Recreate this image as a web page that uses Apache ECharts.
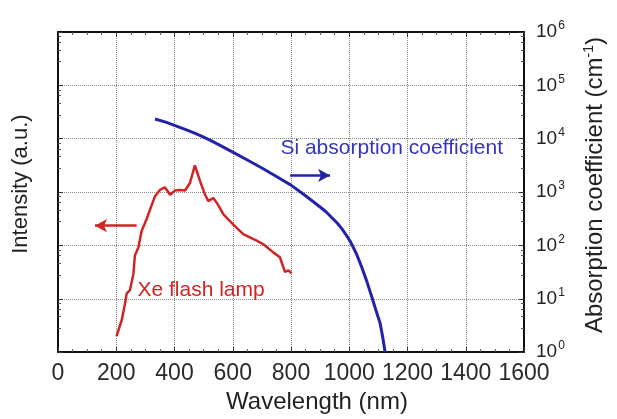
<!DOCTYPE html>
<html>
<head>
<meta charset="utf-8">
<script src="https://cdn.jsdelivr.net/npm/echarts@6/dist/echarts.min.js"></script>
<style>
  html, body { margin: 0; padding: 0; background: #fff; }
  #chart { width: 617px; height: 419px; }
</style>
</head>
<body>
<div id="chart"></div>
<script>
// Xe flash lamp emission spectrum (arbitrary units, log scale)
const xeWavelength = [201, 219, 230, 236, 247, 259, 264, 276, 287, 304, 322, 333, 350, 367, 385,
  402, 419, 436, 453, 470, 488, 505, 516, 533, 545, 556, 568, 602, 636, 682, 705, 739, 762, 779, 791, 802];
const xeIntensity = [2.0, 4.0, 8.1, 12.6, 14.5, 29.5, 64.6, 91, 186, 309, 575, 832, 1096, 1230, 891,
  1072, 1096, 1072, 1479, 3162, 1585, 891, 676, 776, 631, 501, 380, 245, 162, 123, 105, 74, 60, 32, 34, 30];

// Absorption coefficient of crystalline Si (cm^-1)
const siWavelength = [333, 370, 400, 450, 475, 500, 525, 550, 600, 650, 700, 750, 800, 850, 900, 920, 944,
  960, 975, 990, 1005, 1025, 1043, 1060, 1077, 1092, 1106, 1115, 1123];
const siAlpha = [23440, 20420, 17780, 13960, 12300, 10720, 9230, 7850, 5620, 3980, 2820, 1950, 1350, 851, 525, 427, 316,
  257, 204, 155, 115, 69, 38.9, 21.4, 11.0, 6.0, 3.47, 1.9, 1.0];

// Axis ranges
const wavelengthRange = [0, 1600];
const wavelengthStep = 200;
const logRange = [1, 1e6];

// Annotation anchors (data coordinates)
const siLabelAt = [762, 6500];
const xeLabelAt = [271, 14.7];
const siArrow = [[797, 2050], [934, 2050]];
const xeArrow = [[270, 234], [127, 234]];

const FONT = "'Liberation Sans', Arial, sans-serif";
const RED = '#d22424';
const BLUE = '#2323a8';

const zip = (xs, ys) => xs.map((x, i) => [x, ys[i]]);

const chart = echarts.init(document.getElementById('chart'), null, { renderer: 'canvas' });

const frameLine = { show: true, onZero: false, lineStyle: { color: '#111', width: 2 } };
const grid = { show: true, type: 'dotted', color: '#8a8a8a', width: 1 };

chart.setOption({
  animation: false,
  backgroundColor: '#fff',
  grid: { left: 58, right: 93, top: 32, bottom: 63, containLabel: false },
  xAxis: [
    {
      type: 'value', position: 'bottom',
      min: wavelengthRange[0], max: wavelengthRange[1], interval: wavelengthStep,
      name: 'Wavelength (nm)', nameLocation: 'middle', nameGap: 30,
      nameTextStyle: { fontFamily: FONT, fontSize: 24, color: '#222', padding: [0, 0, 0, 52] },
      axisLine: frameLine,
      axisTick: { show: true, inside: true, length: 5, lineStyle: { color: '#333' } },
      minorTick: { show: true, splitNumber: 4, length: 3, lineStyle: { color: '#555' } },
      axisLabel: { fontFamily: FONT, fontSize: 23, color: '#2a2a2a', margin: 10, formatter: v => String(v) },
      splitLine: { show: true, lineStyle: grid }
    },
    {
      type: 'value', position: 'top',
      min: wavelengthRange[0], max: wavelengthRange[1], interval: wavelengthStep,
      axisLine: frameLine,
      axisTick: { show: true, inside: true, length: 5, lineStyle: { color: '#333' } },
      minorTick: { show: true, splitNumber: 4, length: 3, lineStyle: { color: '#555' } },
      axisLabel: { show: false },
      splitLine: { show: false }
    }
  ],
  yAxis: [
    {
      type: 'log', position: 'left', logBase: 10,
      min: logRange[0], max: logRange[1],
      name: 'Intensity (a.u.)', nameLocation: 'middle', nameGap: 26, nameRotate: 90,
      nameTextStyle: { fontFamily: FONT, fontSize: 22, color: '#222', padding: [0, 0, 0, 16] },
      axisLine: frameLine,
      axisTick: { show: true, inside: true, length: 5, lineStyle: { color: '#333' } },
      minorTick: { show: true, splitNumber: 5, length: 3, lineStyle: { color: '#555' } },
      axisLabel: { show: false },
      splitLine: { show: true, lineStyle: grid }
    },
    {
      type: 'log', position: 'right', logBase: 10,
      min: logRange[0], max: logRange[1],
      name: 'Absorption coefficient (cm{s|-1})', nameLocation: 'middle', nameGap: 58, nameRotate: 90,
      nameTextStyle: {
        fontFamily: FONT, fontSize: 24, color: '#222', padding: [0, 0, 0, 14],
        rich: { s: { fontFamily: FONT, fontSize: 14, color: '#222', padding: [0, 0, 12, 0] } }
      },
      axisLine: frameLine,
      axisTick: { show: true, inside: true, length: 5, lineStyle: { color: '#333' } },
      minorTick: { show: true, splitNumber: 5, length: 3, lineStyle: { color: '#555' } },
      axisLabel: {
        margin: 12, color: '#222',
        formatter: v => '{b|10}{s|' + Math.round(Math.log10(v)) + '}',
        rich: {
          b: { fontFamily: FONT, fontSize: 19, color: '#222' },
          s: { fontFamily: FONT, fontSize: 12, color: '#222', padding: [0, 0, 12, 1] }
        }
      },
      splitLine: { show: false }
    }
  ],
  series: [
    {
      name: 'Xe flash lamp', type: 'line', xAxisIndex: 0, yAxisIndex: 0,
      data: zip(xeWavelength, xeIntensity),
      showSymbol: false, smooth: false,
      lineStyle: { color: RED, width: 2.5 },
      markPoint: {
        silent: true, symbol: 'circle', symbolSize: 1,
        itemStyle: { color: 'rgba(0,0,0,0)' },
        label: { show: true, position: 'right', distance: 0, formatter: 'Xe flash lamp',
          fontFamily: FONT, fontSize: 21, color: RED },
        data: [{ coord: xeLabelAt }]
      },
      markLine: {
        silent: true, symbol: ['none', 'arrow'], symbolSize: [10, 12],
        label: { show: false },
        lineStyle: { color: RED, width: 2.5, type: 'solid' },
        data: [[{ coord: xeArrow[0] }, { coord: xeArrow[1] }]]
      }
    },
    {
      name: 'Si absorption coefficient', type: 'line', xAxisIndex: 0, yAxisIndex: 1,
      data: zip(siWavelength, siAlpha),
      showSymbol: false, smooth: false,
      lineStyle: { color: BLUE, width: 3, join: 'round' },
      markPoint: {
        silent: true, symbol: 'circle', symbolSize: 1,
        itemStyle: { color: 'rgba(0,0,0,0)' },
        label: { show: true, position: 'right', distance: 0, formatter: 'Si absorption coefficient',
          fontFamily: FONT, fontSize: 21, color: '#3535bd' },
        data: [{ coord: siLabelAt }]
      },
      markLine: {
        silent: true, symbol: ['none', 'arrow'], symbolSize: [10, 12],
        label: { show: false },
        lineStyle: { color: BLUE, width: 2.5, type: 'solid' },
        data: [[{ coord: siArrow[0] }, { coord: siArrow[1] }]]
      }
    }
  ]
});
</script>
</body>
</html>
